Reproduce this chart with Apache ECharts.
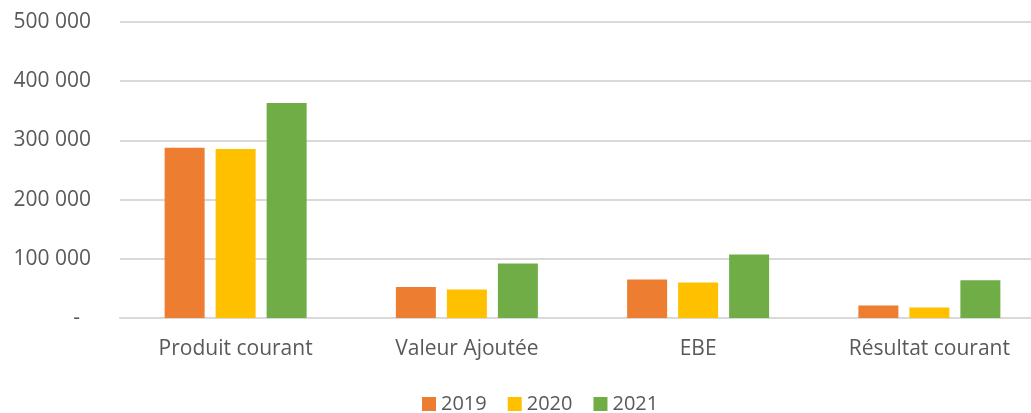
<!DOCTYPE html>
<html>
<head>
<meta charset="utf-8">
<script src="https://cdn.jsdelivr.net/npm/echarts@6/dist/echarts.min.js"></script>
<style>
  html, body { margin: 0; padding: 0; background: #fff; overflow: hidden; }
  /* the reference is cropped on the right: the plot runs past the window edge */
  #chart { width: 1045px; height: 413px; }
</style>
</head>
<body>
<div id="chart"></div>
<script>
const categories = ["Produit courant", "Valeur Ajoutée", "EBE", "Résultat courant"]
const years = ["2019", "2020", "2021"]
const values2019 = [287600, 52400, 65000, 21000]
const values2020 = [285400, 48000, 59900, 17600]
const values2021 = [363300, 92000, 107300, 63800]

const colors = {
  y2019: "#ED7D31",
  y2020: "#FFC000",
  y2021: "#70AD47",
  text: "#595959",
  grid: "#d9d9d9"
}
const font = "'Open Sans', 'Liberation Sans', sans-serif"

const chart = echarts.init(document.getElementById("chart"))

const fmt = (v) => {
  if (v === 0) return "-  "
  return String(v).replace(/\B(?=(\d{3})+(?!\d))/g, " ")
}

const barSeries = (name, data, color) => ({
  name,
  type: "bar",
  data,
  barWidth: 40,
  barGap: "27.5%",
  itemStyle: { color },
  emphasis: { disabled: true }
})

chart.setOption({
  animation: false,
  backgroundColor: "#fff",
  textStyle: { fontFamily: font },
  grid: { left: 120, right: 0, top: 22, bottom: 95 },
  legend: {
    data: years,
    left: 417,
    top: 389,
    itemWidth: 14,
    itemHeight: 14,
    itemGap: 21,
    icon: "rect",
    textStyle: { color: colors.text, fontSize: 20, fontFamily: font }
  },
  xAxis: {
    type: "category",
    data: categories,
    axisLine: { lineStyle: { color: colors.grid, width: 2 } },
    axisTick: { show: false },
    axisLabel: { color: colors.text, fontSize: 21, fontFamily: font, margin: 21 }
  },
  yAxis: {
    type: "value",
    min: 0,
    max: 500000,
    interval: 100000,
    axisLine: { show: false },
    axisTick: { show: false },
    splitLine: { lineStyle: { color: colors.grid, width: 2 } },
    axisLabel: { color: colors.text, fontSize: 21, fontFamily: font, margin: 29, formatter: fmt }
  },
  series: [
    barSeries("2019", values2019, colors.y2019),
    barSeries("2020", values2020, colors.y2020),
    barSeries("2021", values2021, colors.y2021)
  ]
})
</script>
</body>
</html>
